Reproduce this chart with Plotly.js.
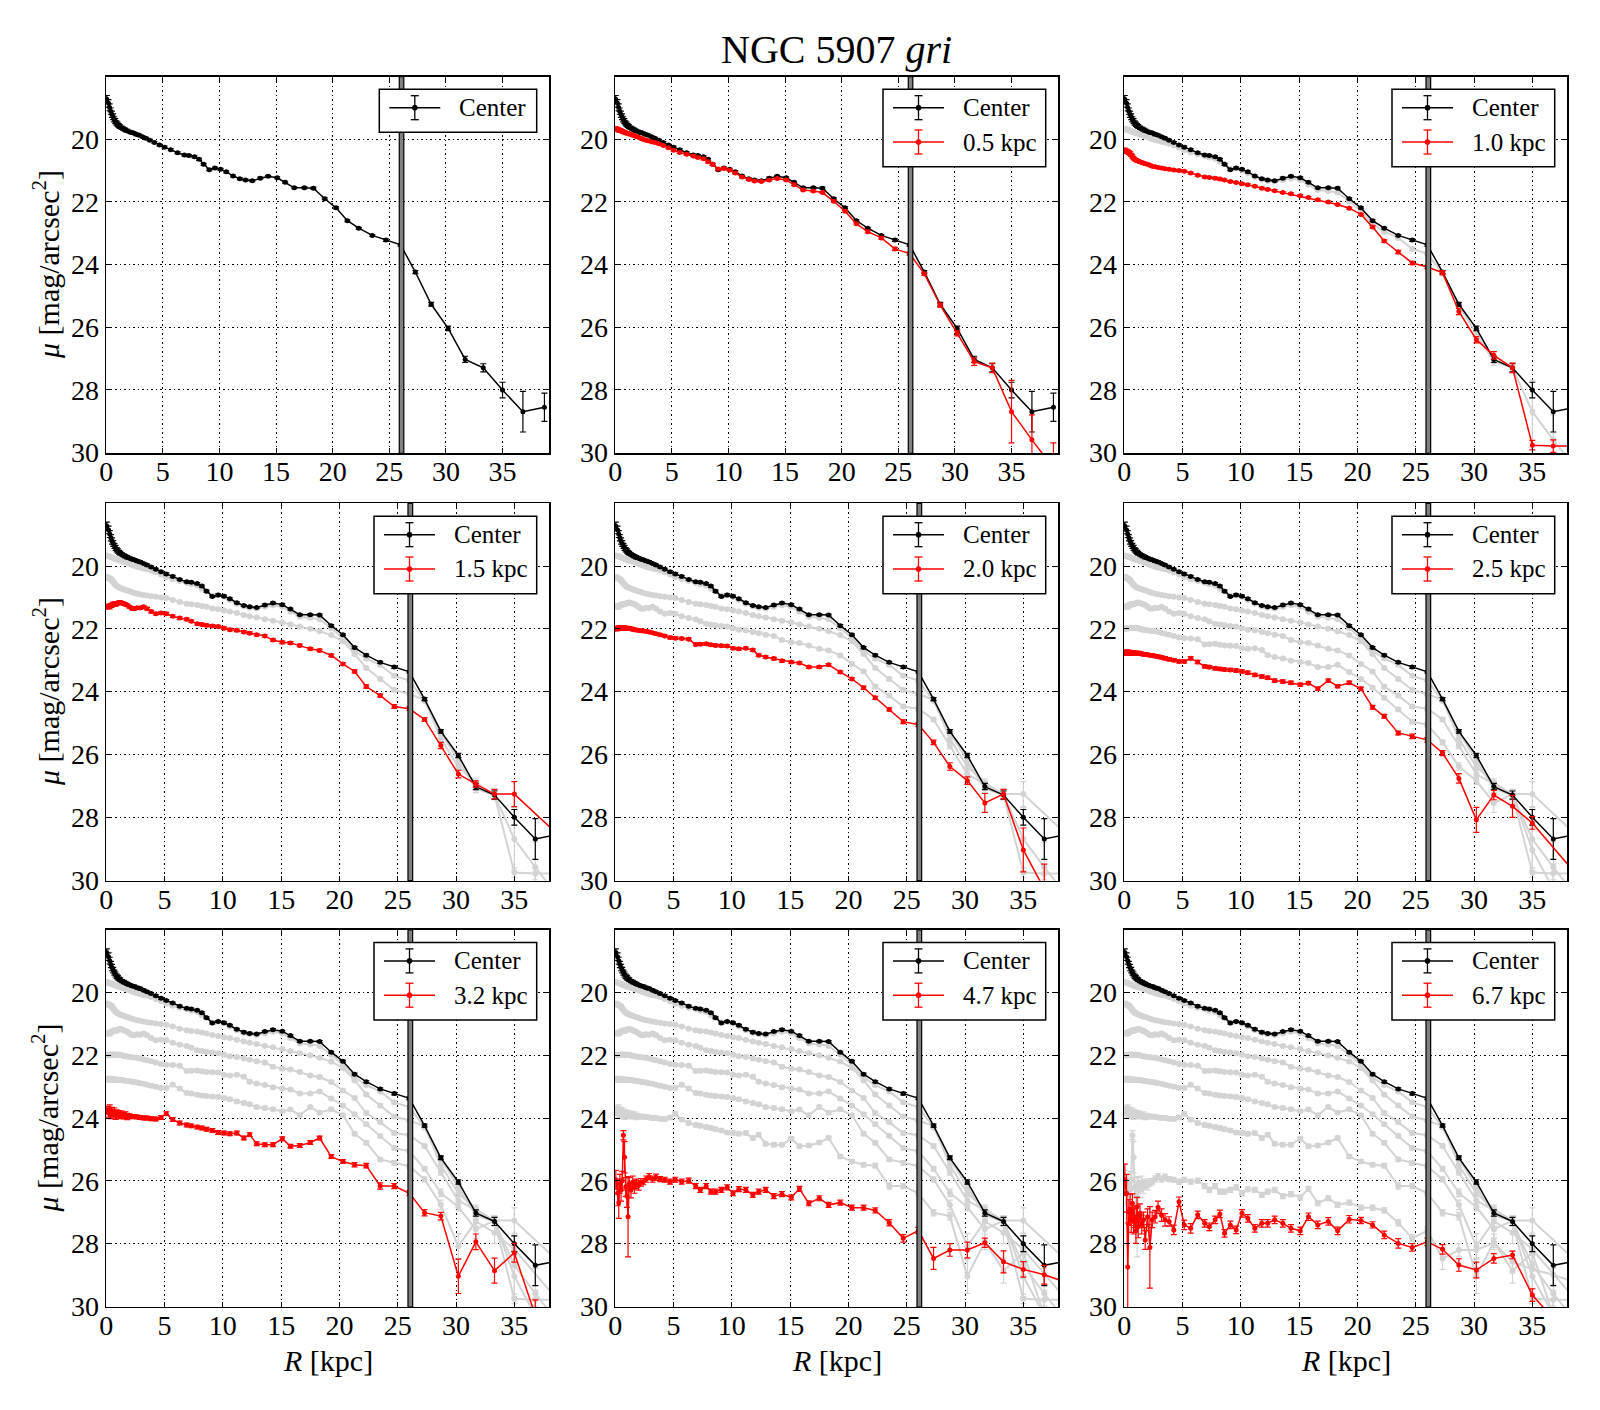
<!DOCTYPE html>
<html>
<head>
<meta charset="utf-8">
<script src="https://cdn.plot.ly/plotly-3.0.1.min.js"></script>
<style>html,body{margin:0;padding:0;background:#fff}#chart{width:1600px;height:1410px}</style>
</head>
<body>
<div id="chart"></div>
<script>
// Radius grid [kpc]
const radius = [
  0.05,0.2,0.3,0.4,0.5,0.6,0.7,0.8,
  0.9,1.0,1.1,1.2,1.35,1.5,1.65,1.8,
  2.0,2.2,2.4,2.65,2.9,3.2,3.5,3.85,
  4.25,4.7,5.15,5.7,6.3,6.9,7.3,7.8,
  8.2,8.6,9.1,9.6,10.1,10.6,11.2,11.8,
  12.3,12.9,13.6,14.3,15.1,15.8,16.6,17.5,
  18.3,19.3,20.3,21.3,22.3,23.5,24.7,26.0,
  27.3,28.7,30.2,31.7,33.3,35.0,36.8,38.7
];

// Surface brightness profiles [mag/arcsec^2]
const muCenter = [
  18.72,18.85,18.98,19.10,19.20,19.28,19.36,19.42,
  19.48,19.52,19.56,19.59,19.63,19.66,19.69,19.72,
  19.75,19.78,19.80,19.84,19.87,19.92,19.97,20.03,
  20.10,20.18,20.25,20.33,20.43,20.50,20.52,20.56,
  20.64,20.80,20.97,20.92,20.96,21.04,21.17,21.26,
  21.30,21.32,21.24,21.18,21.23,21.37,21.55,21.55,
  21.56,21.90,22.19,22.60,22.84,23.07,23.22,23.37,
  24.24,25.27,26.04,27.03,27.30,28.01,28.70,28.56
];
const errCenter = [
  0.12,0.12,0.11,0.10,0.10,0.09,0.08,0.08,
  0.07,0.07,0.06,0.06,0.05,0.05,0.05,0.05,
  0.04,0.04,0.04,0.04,0.04,0.03,0.03,0.03,
  0.03,0.03,0.03,0.03,0.03,0.03,0.03,0.03,
  0.03,0.03,0.03,0.03,0.03,0.03,0.03,0.03,
  0.03,0.03,0.03,0.03,0.03,0.03,0.03,0.03,
  0.03,0.03,0.03,0.03,0.03,0.03,0.04,0.04,
  0.05,0.06,0.07,0.10,0.13,0.25,0.65,0.45
];
const mu05 = [
  19.66,19.68,19.70,19.71,19.72,19.74,19.76,19.77,
  19.79,19.80,19.81,19.82,19.84,19.86,19.88,19.90,
  19.93,19.96,19.99,20.02,20.05,20.08,20.10,20.14,
  20.20,20.27,20.35,20.42,20.48,20.53,20.58,20.62,
  20.72,20.80,20.95,20.93,20.98,21.08,21.20,21.28,
  21.33,21.35,21.30,21.25,21.30,21.45,21.62,21.65,
  21.70,21.98,22.30,22.70,22.95,23.15,23.50,23.65,
  24.30,25.30,26.20,27.10,27.30,28.70,29.60,30.50
];
const err05 = [
  0.06,0.06,0.06,0.05,0.05,0.05,0.05,0.05,
  0.04,0.04,0.04,0.04,0.04,0.03,0.03,0.03,
  0.03,0.03,0.03,0.03,0.03,0.03,0.03,0.03,
  0.03,0.03,0.03,0.03,0.03,0.03,0.03,0.03,
  0.03,0.03,0.03,0.03,0.03,0.03,0.03,0.03,
  0.03,0.03,0.03,0.03,0.03,0.03,0.03,0.03,
  0.03,0.03,0.03,0.03,0.04,0.04,0.05,0.05,
  0.05,0.06,0.08,0.12,0.15,1.00,0.80,0.80
];
const mu10 = [
  20.35,20.38,20.40,20.42,20.45,20.50,20.55,20.60,
  20.64,20.66,20.68,20.70,20.72,20.74,20.76,20.78,
  20.80,20.83,20.86,20.88,20.90,20.92,20.94,20.96,
  20.98,21.00,21.02,21.08,21.15,21.20,21.22,21.24,
  21.27,21.30,21.35,21.38,21.42,21.45,21.50,21.56,
  21.60,21.64,21.70,21.74,21.80,21.86,21.93,22.00,
  22.08,22.20,22.40,22.80,23.25,23.60,23.95,24.08,
  24.26,25.50,26.40,26.90,27.30,29.77,29.80,29.80
];
const err10 = [
  0.07,0.07,0.06,0.06,0.06,0.05,0.05,0.05,
  0.04,0.04,0.04,0.04,0.04,0.03,0.03,0.03,
  0.03,0.03,0.03,0.03,0.03,0.03,0.03,0.03,
  0.03,0.03,0.03,0.03,0.03,0.03,0.03,0.03,
  0.03,0.03,0.03,0.03,0.03,0.03,0.03,0.03,
  0.03,0.03,0.03,0.03,0.03,0.03,0.03,0.03,
  0.03,0.03,0.03,0.04,0.04,0.05,0.05,0.05,
  0.06,0.10,0.10,0.12,0.15,0.15,0.20,0.20
];
const mu15 = [
  21.30,21.28,21.30,21.26,21.24,21.22,21.20,21.22,
  21.20,21.18,21.17,21.16,21.18,21.20,21.22,21.25,
  21.30,21.35,21.36,21.33,21.34,21.30,21.36,21.45,
  21.52,21.50,21.52,21.60,21.66,21.70,21.76,21.84,
  21.86,21.89,21.91,21.93,21.98,22.03,22.05,22.10,
  22.14,22.19,22.23,22.36,22.43,22.45,22.53,22.64,
  22.69,22.85,23.12,23.36,23.84,24.13,24.48,24.55,
  24.89,25.72,26.63,26.95,27.27,27.27,null,28.55
];
const err15 = [
  0.07,0.07,0.07,0.06,0.06,0.06,0.06,0.06,
  0.05,0.05,0.05,0.05,0.05,0.04,0.04,0.04,
  0.04,0.04,0.04,0.04,0.04,0.04,0.04,0.04,
  0.04,0.04,0.04,0.04,0.04,0.04,0.04,0.04,
  0.04,0.04,0.04,0.04,0.04,0.04,0.04,0.04,
  0.04,0.04,0.04,0.04,0.04,0.04,0.04,0.04,
  0.04,0.04,0.04,0.05,0.05,0.05,0.06,0.06,
  0.06,0.10,0.12,0.10,0.15,0.40,0.30,0.30
];
const mu20 = [
  22.00,21.99,21.98,21.98,21.97,21.97,21.98,21.98,
  21.97,21.98,21.98,21.98,22.00,22.02,22.03,22.04,
  22.05,22.06,22.07,22.08,22.10,22.13,22.16,22.19,
  22.23,22.28,22.30,22.31,22.33,22.50,22.49,22.48,
  22.51,22.53,22.54,22.55,22.62,22.64,22.62,22.68,
  22.84,22.90,22.95,23.02,23.06,23.09,23.22,23.22,
  23.15,23.38,23.60,23.88,24.20,24.57,24.96,25.06,
  25.62,26.39,26.84,27.55,27.27,29.05,30.30,31.00
];
const err20 = [
  0.07,0.07,0.07,0.06,0.06,0.06,0.06,0.06,
  0.05,0.05,0.05,0.05,0.05,0.04,0.04,0.04,
  0.04,0.04,0.04,0.04,0.04,0.04,0.04,0.04,
  0.04,0.04,0.04,0.04,0.04,0.04,0.04,0.04,
  0.04,0.04,0.04,0.04,0.04,0.04,0.04,0.04,
  0.04,0.04,0.04,0.04,0.04,0.04,0.04,0.04,
  0.04,0.04,0.04,0.05,0.05,0.05,0.06,0.06,
  0.07,0.12,0.12,0.30,0.15,0.70,0.80,0.80
];
const mu25 = [
  22.77,22.75,22.76,22.78,22.76,22.77,22.78,22.77,
  22.78,22.79,22.78,22.78,22.79,22.80,22.81,22.82,
  22.83,22.84,22.85,22.87,22.89,22.91,22.94,22.97,
  23.00,23.04,23.04,22.94,23.06,23.20,23.22,23.26,
  23.28,23.30,23.31,23.33,23.36,23.40,23.47,23.52,
  23.56,23.65,23.68,23.72,23.78,23.73,23.91,23.65,
  23.83,23.72,23.91,24.50,24.79,25.32,25.43,25.54,
  25.96,26.77,28.09,27.30,27.66,28.19,null,29.80
];
const err25 = [
  0.08,0.08,0.08,0.07,0.07,0.07,0.07,0.07,
  0.06,0.06,0.06,0.06,0.06,0.05,0.05,0.05,
  0.05,0.05,0.05,0.05,0.05,0.05,0.05,0.05,
  0.05,0.05,0.05,0.05,0.05,0.05,0.05,0.05,
  0.05,0.05,0.05,0.05,0.05,0.05,0.05,0.05,
  0.05,0.05,0.05,0.05,0.05,0.05,0.05,0.05,
  0.05,0.05,0.05,0.06,0.06,0.06,0.07,0.07,
  0.08,0.15,0.40,0.15,0.35,0.20,0.30,0.30
];
const mu32 = [
  23.75,23.85,23.70,23.90,23.78,23.88,23.80,23.92,
  23.84,23.90,23.86,23.92,23.88,23.93,23.90,23.95,
  23.93,23.96,23.95,23.97,23.98,24.00,24.00,24.02,
  24.03,23.98,23.86,24.05,24.16,24.22,24.25,24.29,
  24.32,24.36,24.40,24.46,24.48,24.50,24.48,24.64,
  24.53,24.82,24.85,24.85,24.66,24.90,24.88,24.78,
  24.64,25.23,25.39,25.49,25.52,26.17,26.17,26.40,
  27.02,27.13,29.05,27.95,28.87,28.30,30.30,31.00
];
const err32 = [
  0.12,0.12,0.12,0.12,0.12,0.12,0.12,0.12,
  0.10,0.10,0.10,0.10,0.10,0.10,0.10,0.10,
  0.06,0.06,0.06,0.06,0.06,0.06,0.06,0.06,
  0.06,0.06,0.06,0.06,0.06,0.06,0.06,0.06,
  0.06,0.06,0.06,0.06,0.06,0.06,0.06,0.06,
  0.06,0.06,0.06,0.06,0.06,0.06,0.06,0.06,
  0.06,0.06,0.06,0.07,0.07,0.10,0.08,0.08,
  0.10,0.12,0.55,0.25,0.40,0.30,0.50,0.50
];
const mu47 = [
  25.97,26.40,26.70,26.10,26.30,26.00,24.55,25.25,
  26.20,26.50,27.15,26.10,26.30,26.05,26.20,26.10,
  26.15,26.05,26.03,25.95,25.87,25.95,25.89,25.95,
  25.97,26.03,25.97,26.03,26.00,26.17,26.29,26.17,
  26.35,26.35,26.29,26.21,26.40,26.27,26.29,26.45,
  26.35,26.29,26.49,26.43,26.53,26.26,26.72,26.56,
  26.77,26.70,26.86,26.86,26.95,27.34,27.84,27.59,
  28.48,28.21,28.21,27.98,28.59,28.83,29.00,29.25
];
const err47 = [
  0.30,0.40,0.50,0.30,0.35,0.30,0.15,0.50,
  0.30,0.35,1.28,0.20,0.25,0.20,0.20,0.15,
  0.15,0.12,0.10,0.10,0.10,0.10,0.10,0.08,
  0.08,0.08,0.08,0.08,0.08,0.08,0.08,0.08,
  0.08,0.08,0.08,0.08,0.08,0.08,0.08,0.08,
  0.08,0.08,0.08,0.08,0.08,0.08,0.08,0.08,
  0.08,0.08,0.08,0.08,0.08,0.10,0.12,0.10,
  0.35,0.20,0.25,0.15,0.35,0.25,0.30,0.30
];
const mu67 = [
  25.97,26.40,28.75,27.00,26.93,27.25,26.72,27.30,
  27.15,27.60,26.83,27.47,27.04,27.40,27.25,27.89,
  27.15,28.13,27.25,27.15,26.85,27.10,27.25,27.30,
  27.57,26.67,27.41,27.52,27.09,27.36,27.47,27.25,
  27.06,27.68,27.41,27.57,27.04,27.20,27.52,27.36,
  27.36,27.25,27.36,27.52,27.60,27.15,27.41,27.30,
  27.60,27.23,27.27,27.41,27.73,28.00,28.13,27.95,
  28.19,28.69,28.85,28.48,28.37,29.65,30.40,31.00
];
const err67 = [
  0.50,0.60,1.40,0.40,0.50,0.40,0.30,0.40,
  0.35,0.40,0.30,0.35,0.30,0.30,0.25,0.30,
  0.25,1.30,0.25,0.20,0.20,0.20,0.20,0.15,
  0.15,0.15,0.15,0.15,0.12,0.12,0.12,0.12,
  0.12,0.12,0.12,0.12,0.12,0.12,0.12,0.12,
  0.12,0.12,0.12,0.12,0.12,0.12,0.12,0.12,
  0.12,0.12,0.10,0.10,0.12,0.15,0.12,0.12,
  0.15,0.20,0.25,0.15,0.12,0.20,0.30,0.30
];

const seriesNames = ['Center','0.5 kpc','1.0 kpc','1.5 kpc','2.0 kpc','2.5 kpc','3.2 kpc','4.7 kpc','6.7 kpc'];
const xTickVals = [0,5,10,15,20,25,30,35];
const yTickVals = [20,22,24,26,28,30];
const panelXMax = [39.13,39.13,38.0,38.0,38.0,38.0,38.0,38.0,38.0];
const breakBand = [25.88,26.28];

const profiles = [muCenter,mu05,mu10,mu15,mu20,mu25,mu32,mu47,mu67];
const profileErrs = [errCenter,err05,err10,err15,err20,err25,err32,err47,err67];

const serif = 'Liberation Serif, DejaVu Serif, serif';
const W = 1600, H = 1410;
const colDom = [[0.06625,0.34331],[0.38438,0.66144],[0.70250,0.97956]];
const rowDom = [[0.67851,0.94560],[0.37539,0.64305],[0.07305,0.34043]];
const legendRight = [536.7,1045.7,1554.7];
const legendTop = [89.3,516.3,942.5];
const GREY = '#d3d3d3';

function px(x) { return x / W; }
function py(y) { return 1 - y / H; }

function makeTrace(i, color, xa, ya, lw, ms) {
  return {
    type: 'scatter', mode: 'lines+markers',
    x: radius, y: profiles[i],
    name: seriesNames[i],
    connectgaps: true,
    error_y: {type: 'data', array: profileErrs[i], visible: true, color: color, thickness: 1.2, width: 3},
    line: {color: color, width: lw},
    marker: {color: color, size: ms, line: {width: 0}},
    xaxis: xa, yaxis: ya, showlegend: false,
    hoverinfo: 'skip'
  };
}

const traces = [];
const layout = {
  width: W, height: H,
  margin: {l: 0, r: 0, t: 0, b: 0},
  paper_bgcolor: 'white', plot_bgcolor: 'white',
  font: {family: serif, color: 'black'},
  hovermode: false, showlegend: false,
  title: {text: 'NGC 5907 <i>gri</i>', x: 0.5229, xanchor: 'center', y: 0.9652, yanchor: 'middle',
          font: {family: serif, size: 40, color: 'black'}},
  shapes: [], annotations: []
};

function addLegend(r, c, entries) {
  const right = legendRight[c], top = legendTop[r];
  const width = entries.length === 1 ? 157.4 : 162.7;
  const height = entries.length === 1 ? 43 : 77.4;
  const left = right - width;
  layout.shapes.push({type: 'rect', xref: 'paper', yref: 'paper', x0: px(left), x1: px(right),
    y0: py(top + height), y1: py(top), fillcolor: 'white', line: {color: 'black', width: 1.5}, layer: 'above'});
  entries.forEach((e, k) => {
    const yc = top + 18.4 + 34.3 * k;
    const xc = left + 35.5;
    const col = e.color;
    layout.shapes.push({type: 'line', xref: 'paper', yref: 'paper', x0: px(left + 10), x1: px(left + 61),
      y0: py(yc), y1: py(yc), line: {color: col, width: 1.5}, layer: 'above'});
    layout.shapes.push({type: 'line', xref: 'paper', yref: 'paper', x0: px(xc), x1: px(xc),
      y0: py(yc - 12), y1: py(yc + 12), line: {color: col, width: 1.3}, layer: 'above'});
    layout.shapes.push({type: 'line', xref: 'paper', yref: 'paper', x0: px(xc - 4), x1: px(xc + 4),
      y0: py(yc - 12), y1: py(yc - 12), line: {color: col, width: 1.3}, layer: 'above'});
    layout.shapes.push({type: 'line', xref: 'paper', yref: 'paper', x0: px(xc - 4), x1: px(xc + 4),
      y0: py(yc + 12), y1: py(yc + 12), line: {color: col, width: 1.3}, layer: 'above'});
    layout.shapes.push({type: 'circle', xref: 'paper', yref: 'paper', x0: px(xc - 2.6), x1: px(xc + 2.6),
      y0: py(yc + 2.6), y1: py(yc - 2.6), fillcolor: col, line: {color: col, width: 0.5}, layer: 'above'});
    layout.annotations.push({text: e.name, xref: 'paper', yref: 'paper', x: px(left + 78), y: py(yc),
      xanchor: 'left', yanchor: 'middle', showarrow: false,
      font: {family: serif, size: 25, color: 'black'}});
  });
}

for (let p = 0; p < 9; p++) {
  const r = Math.floor(p / 3), c = p % 3;
  const suf = p === 0 ? '' : String(p + 1);
  const xa = 'x' + suf, ya = 'y' + suf;
  for (let g = 1; g < p; g++) traces.push(makeTrace(g, GREY, xa, ya, 2, 6));
  traces.push(makeTrace(0, 'black', xa, ya, 1.5, 5));
  if (p > 0) traces.push(makeTrace(p, 'red', xa, ya, 1.5, 5));

  const common = {
    ticks: 'inside', ticklen: 5, tickwidth: 1, tickcolor: 'black',
    mirror: 'allticks', showline: true, linecolor: 'black', linewidth: 1.5,
    showgrid: true, gridcolor: 'black', griddash: '1.5px,3px', gridwidth: 1,
    zeroline: false, tickfont: {family: serif, size: 28, color: 'black'}
  };
  layout['xaxis' + suf] = Object.assign({}, common, {
    domain: colDom[c], anchor: ya, range: [-0.02, panelXMax[p]],
    tickmode: 'array', tickvals: xTickVals, ticktext: xTickVals.map(String),
    ticklabelstandoff: -7
  });
  layout['yaxis' + suf] = Object.assign({}, common, {
    domain: rowDom[r], anchor: xa, range: [30.03, 18.0],
    tickmode: 'array', tickvals: yTickVals, ticktext: yTickVals.map(String)
  });
  layout.shapes.push({
    type: 'rect', xref: xa, yref: ya + ' domain',
    x0: breakBand[0], x1: breakBand[1], y0: 0, y1: 1,
    fillcolor: '#808080', line: {color: 'black', width: 1.2}, layer: 'above'
  });
  const entries = [{name: seriesNames[0], color: 'black'}];
  if (p > 0) entries.push({name: seriesNames[p], color: 'red'});
  addLegend(r, c, entries);
}

// Axis titles
for (let r = 0; r < 3; r++) {
  layout.annotations.push({
    text: '<i>μ</i> [mag/arcsec<sup>2</sup>]', textangle: -90,
    xref: 'paper', yref: 'paper', x: 46 / W, y: (rowDom[r][0] + rowDom[r][1]) / 2,
    xanchor: 'center', yanchor: 'middle', showarrow: false,
    font: {family: serif, size: 30, color: 'black'}
  });
}
for (let c = 0; c < 3; c++) {
  layout.annotations.push({
    text: '<i>R</i> [kpc]',
    xref: 'paper', yref: 'paper', x: (colDom[c][0] + colDom[c][1]) / 2, y: 1 - 1360 / H,
    xanchor: 'center', yanchor: 'middle', showarrow: false,
    font: {family: serif, size: 30, color: 'black'}
  });
}

Plotly.newPlot('chart', traces, layout, {displayModeBar: false, staticPlot: true});
</script>
</body>
</html>
